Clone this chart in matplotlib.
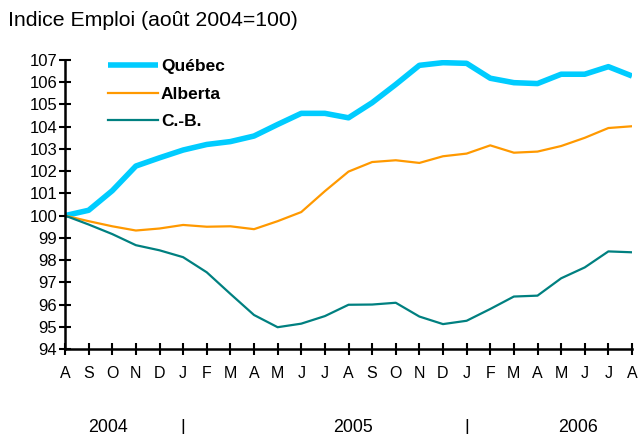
import numpy as np
import matplotlib.pyplot as plt

plt.rcParams["font.family"] = ["Liberation Sans", "DejaVu Sans"]

months = ["A", "S", "O", "N", "D", "J", "F", "M", "A", "M", "J", "J",
          "A", "S", "O", "N", "D", "J", "F", "M", "A", "M", "J", "J", "A"]

quebec = [100.0, 100.24, 101.12, 102.23, 102.6, 102.95, 103.2, 103.33, 103.58,
          104.1, 104.6, 104.6, 104.4, 105.08, 105.9, 106.76, 106.88, 106.85,
          106.18, 105.98, 105.94, 106.36, 106.36, 106.7, 106.28]
alberta = [100.0, 99.75, 99.52, 99.33, 99.42, 99.58, 99.5, 99.52, 99.39, 99.75,
           100.16, 101.1, 101.98, 102.41, 102.49, 102.37, 102.67, 102.79,
           103.16, 102.83, 102.88, 103.13, 103.5, 103.94, 104.02]
cb = [100.0, 99.6, 99.17, 98.67, 98.44, 98.13, 97.45, 96.48, 95.53, 94.98,
      95.14, 95.48, 95.99, 96.0, 96.08, 95.46, 95.12, 95.27, 95.8, 96.36,
      96.4, 97.18, 97.67, 98.39, 98.35]

years = ["2004", "|", "2005", "|", "2006"]
year_pos = [1.8, 5, 12.2, 17, 21.7]

x = np.arange(len(months))

fig = plt.figure(figsize=(6.39, 4.34), dpi=100)
ax = fig.add_axes([65 / 639, 1 - 349 / 434, 567 / 639, 289 / 434])

ax.plot(x, quebec, color="#00CCFF", lw=4, label="Québec", solid_capstyle="butt")
ax.plot(x, alberta, color="#FF9900", lw=1.6, label="Alberta")
ax.plot(x, cb, color="#008080", lw=1.6, label="C.-B.")

ax.set_xlim(0, len(months) - 1)
ax.set_ylim(94, 107)
ax.set_yticks(np.arange(94, 108))
ax.set_xticks(x)
ax.set_xticklabels(months)

for side in ["top", "right"]:
    ax.spines[side].set_visible(False)
for side in ["left", "bottom"]:
    ax.spines[side].set_linewidth(1.8)
    ax.spines[side].set_color("black")

ax.tick_params(axis="both", direction="inout", length=9, width=1.5,
               labelsize=12, color="black")
ax.tick_params(axis="x", pad=8, labelsize=11.5)
ax.tick_params(axis="y", pad=1)

for lab, p in zip(years, year_pos):
    ax.text(p, -0.27, lab, transform=ax.get_xaxis_transform(),
            ha="center", va="center", fontsize=12.8)

fig.text(8 / 639, 1 - 20 / 434, "Indice Emploi (août 2004=100)",
         ha="left", va="center", fontsize=15.3)

ax.legend(loc="upper left", bbox_to_anchor=(0.076, 1.003), frameon=False,
          prop={"weight": "bold", "size": 12.5}, handlelength=2.9,
          handletextpad=0.15, labelspacing=0.7, borderpad=0, borderaxespad=0)

fig.savefig("out.png", dpi=100)
